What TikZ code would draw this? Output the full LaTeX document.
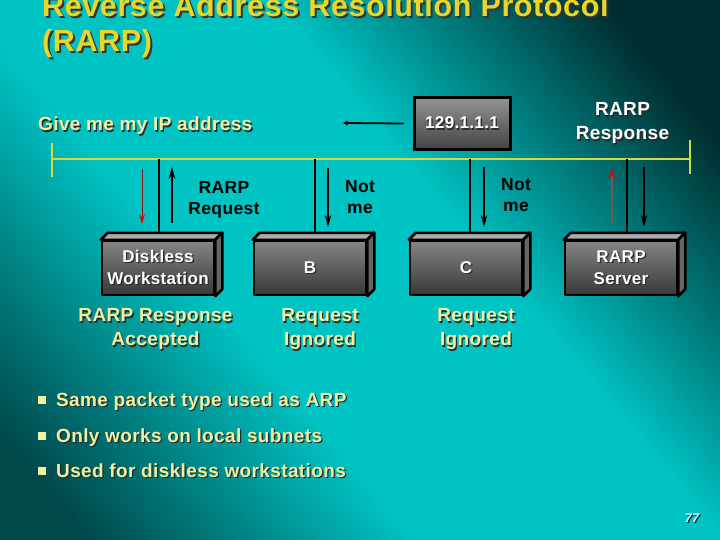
\documentclass[tikz,border=0pt]{standalone}
\usepackage{fontspec}
\setmainfont{Liberation Sans}[LetterSpace=2]
\usetikzlibrary{arrows.meta}
\definecolor{bgA}{RGB}{0,72,74}
\definecolor{bgB}{RGB}{0,196,196}
\definecolor{bgC}{RGB}{0,46,48}
\definecolor{titley}{RGB}{232,214,40}
\definecolor{lyel}{RGB}{240,240,160}
\definecolor{busy}{RGB}{214,218,64}
\definecolor{shdw}{RGB}{35,45,45}
\definecolor{arrred}{RGB}{232,0,0}
\definecolor{darkred}{RGB}{150,20,20}
\definecolor{brownline}{RGB}{112,90,90}
\pgfdeclarehorizontalshading{slidebg}{100bp}{color(0bp)=(bgA); color(20bp)=(bgA); color(40bp)=(bgB); color(58bp)=(bgB); color(78bp)=(bgC); color(100bp)=(bgC)}
\newcommand\shd[1]{\makebox[0pt][l]{\kern1.3pt\raisebox{-1.3pt}{\textcolor{shdw}{#1}}}#1}
\newcommand\shdt[1]{\makebox[0pt][l]{\kern2pt\raisebox{-2pt}{\textcolor{black!80}{#1}}}#1}
\tikzset{
  titletext/.style={anchor=base west, inner sep=0pt, text=titley, font=\bfseries\fontsize{30.5}{34}\selectfont},
  yeltext/.style={inner sep=0pt, text=lyel, font=\bfseries\fontsize{19}{24}\selectfont, align=center},
  whitetext/.style={inner sep=0pt, text=white, font=\bfseries\fontsize{19}{24}\selectfont, align=center},
  blacklabel/.style={inner sep=0pt, text=black, font=\bfseries\fontsize{17.5}{21}\selectfont, align=center},
  frontface/.style={draw=black, line width=2.5pt, line join=round, top color=black!48, bottom color=black!78,
     minimum width=112pt, minimum height=54pt, inner sep=0pt, text=white,
     font=\bfseries\fontsize{17}{22}\selectfont, align=center},
  topface/.style={draw=black, line width=2.5pt, line join=round, fill=black!33},
  sideface/.style={draw=black, line width=2.5pt, line join=round, fill=black!60},
  ipbox/.style={draw=black, line width=3pt, top color=black!42, bottom color=black!74,
     minimum width=96pt, minimum height=52pt, inner sep=0pt, text=white,
     font=\bfseries\fontsize{17}{20}\selectfont},
  busline/.style={draw=busy, line width=2.6pt},
  tap/.style={draw=black, line width=2pt},
  blkarrow/.style={draw=black, line width=1.6pt, -{Stealth[length=12pt, width=6.5pt]}},
  redarrow/.style={draw=darkred, line width=1pt, -{Stealth[length=10pt, width=6pt, color=arrred]}},
  redarrowB/.style={draw=brownline, line width=2.4pt, -{Stealth[length=10pt, width=6.5pt, color=arrred]}},
  bulletsq/.style={fill=lyel, minimum size=8pt, inner sep=0pt},
  bullettext/.style={anchor=base west, inner sep=0pt, text=lyel, font=\bfseries\fontsize{19}{24}\selectfont},
}
\begin{document}
\begin{tikzpicture}[x=1pt, y=-1pt]
\useasboundingbox (0,0) rectangle (720,540);
\shade[shading=slidebg, shading angle=40] (0,0) rectangle (720,540);

% title
\node[titletext] (t1) at (42,17) {\shdt{Reverse Address Resolution Protocol}};
\node[titletext] (t2) at (42,52) {\shdt{(RARP)}};

% upper labels
\node[yeltext, anchor=base west] (give) at (38,131) {\shd{Give me my IP address}};
\node[ipbox] (ip) at (462,123.5) {\shd{129.1.1.1}};
\coordinate (ipend) at (343,123);
\draw[line width=1.8pt, -{Stealth[length=5pt, width=5pt]}] ([xshift=-9pt]ip.west) -- (ipend);
\node[whitetext] (resp) at (622.5,124) {\shd{RARP}\\\shd{Response}};

% bus
\coordinate (busL) at (52,159);
\coordinate (busR) at (690,159);
\draw[busline] (busL) -- (busR);
\draw[busline] ([yshift=16pt]busL) -- ([yshift=-18pt]busL);
\draw[busline] ([yshift=19pt]busR) -- ([yshift=-15pt]busR);

% boxes
\newcommand\threed[1]{%
  \filldraw[topface] (#1.north west) -- ++(7,-7) -- ([shift={(7,-7)}]#1.north east) -- (#1.north east) -- cycle;
  \filldraw[sideface] (#1.north east) -- ++(7,-7) -- ([shift={(7,-7)}]#1.south east) -- (#1.south east) -- cycle;}
\node[frontface] (dw) at (158,268) {\shd{Diskless}\\\shd{Workstation}};
\node[frontface] (nb) at (310,268) {\shd{B}};
\node[frontface] (nc) at (466,268) {\shd{C}};
\node[frontface] (srv) at (621,268) {\shd{RARP}\\\shd{Server}};
\threed{dw}\threed{nb}\threed{nc}\threed{srv}

% taps
\coordinate (tapdw) at (159,159);
\coordinate (tapb) at (315,159);
\coordinate (tapc) at (470,159);
\coordinate (tapsrv) at (627,159);
\coordinate (topdw) at ([yshift=7pt]dw.north);
\coordinate (topb) at ([yshift=7pt]nb.north);
\coordinate (topc) at ([yshift=7pt]nc.north);
\coordinate (topsrv) at ([yshift=7pt]srv.north);
\draw[tap] (tapdw) -- (tapdw |- topdw);
\draw[tap] (tapb) -- (tapb |- topb);
\draw[tap] (tapc) -- (tapc |- topc);
\draw[tap] (tapsrv) -- (tapsrv |- topsrv);

% arrows
\draw[redarrow] (142,169) -- (142,224);
\draw[blkarrow] (172,223) -- (172,167);
\draw[blkarrow] (328,168) -- (328,227);
\draw[blkarrow] (484,167) -- (484,227);
\draw[redarrowB] (612,224) -- (612,169);
\draw[blkarrow] (644,167) -- (644,227);

% arrow labels
\node[blacklabel] (req) at (224,200) {RARP\\Request};
\node[blacklabel] (notb) at (360,197) {Not\\me};
\node[blacklabel] (notc) at (516,195) {Not\\me};

% lower labels
\node[yeltext] (dwlab) at (155.5,330) {\shd{RARP Response}\\\shd{Accepted}};
\node[yeltext] (blab) at (320,330) {\shd{Request}\\\shd{Ignored}};
\node[yeltext] (clab) at (476,330) {\shd{Request}\\\shd{Ignored}};

% bullets
\node[bulletsq] (s1) at (42,400) {};
\node[bulletsq] (s2) at (42,436) {};
\node[bulletsq] (s3) at (42,471) {};
\node[bullettext] (l1) at (56,406) {\shd{Same packet type used as ARP}};
\node[bullettext] (l2) at (56,442) {\shd{Only works on local subnets}};
\node[bullettext] (l3) at (56,477) {\shd{Used for diskless workstations}};

% page number
\node[inner sep=0pt, text=white!85!cyan, font=\itshape\bfseries\fontsize{12.5}{13}\selectfont] (pg) at (692,519) {\shd{77}};
\end{tikzpicture}
\end{document}
